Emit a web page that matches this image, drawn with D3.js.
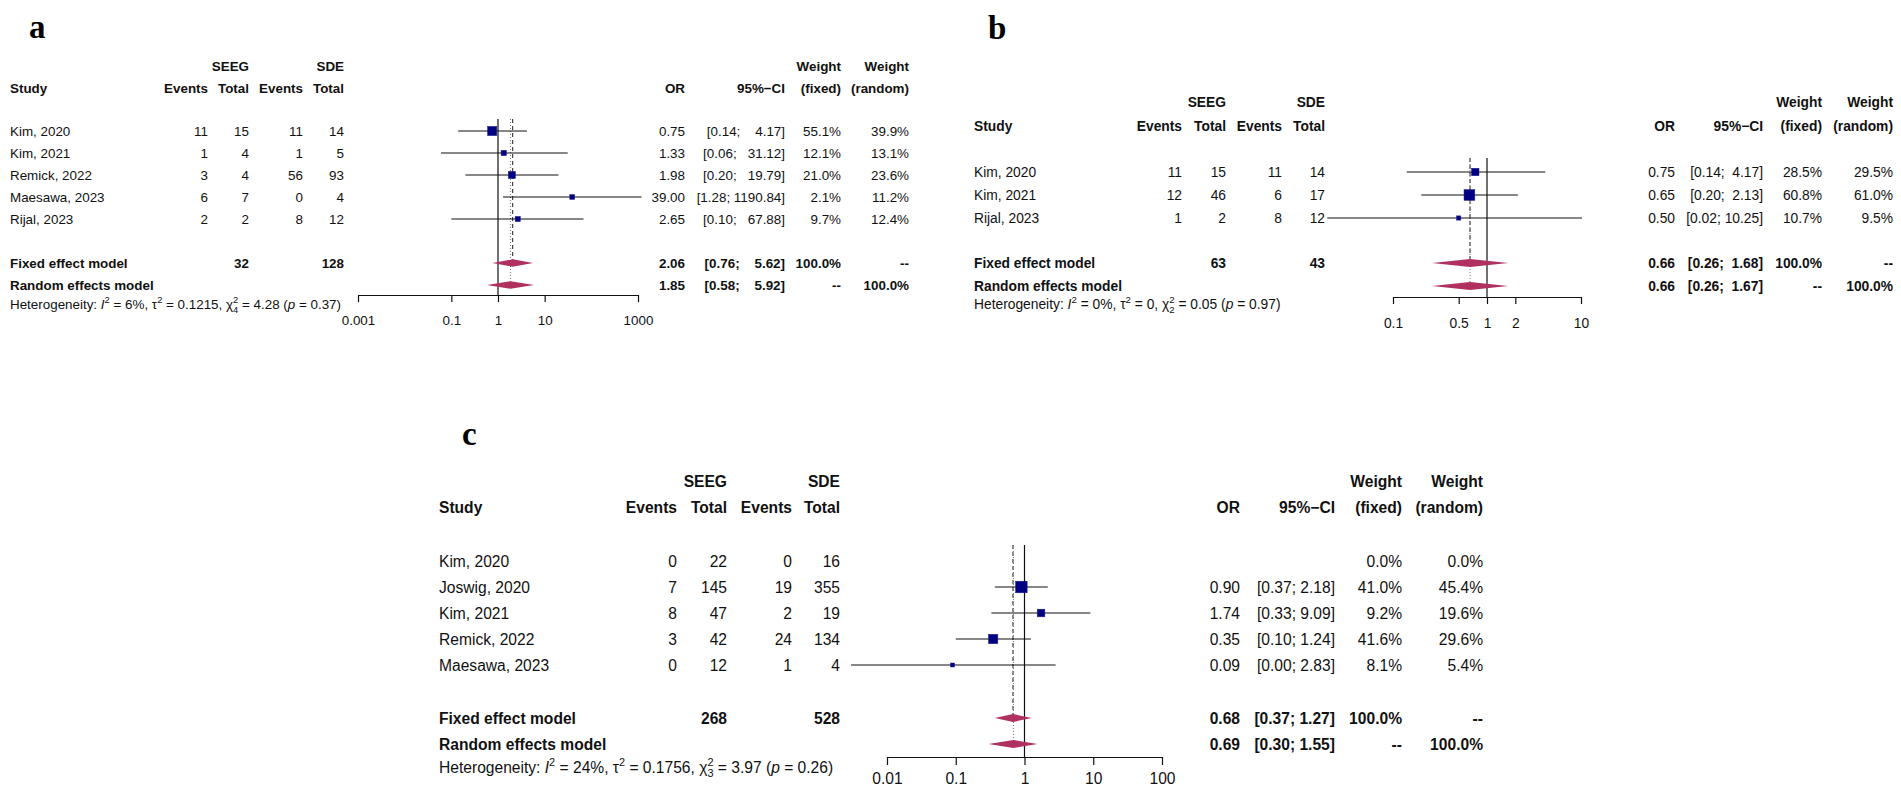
<!DOCTYPE html>
<html>
<head>
<meta charset="utf-8">
<script src="https://cdn.jsdelivr.net/npm/d3@7"></script>
<style>
  body { margin: 0; background: #fff; }
  svg text { white-space: pre; }
</style>
</head>
<body>
<svg id="chart" width="1901" height="802"></svg>
<script>
// ---- panel a data ----
var studiesA = ["Kim, 2020", "Kim, 2021", "Remick, 2022", "Maesawa, 2023", "Rijal, 2023"];
var seegEventsA = [11, 1, 3, 6, 2];
var seegTotalA = [15, 4, 4, 7, 2];
var sdeEventsA = [11, 1, 56, 0, 8];
var sdeTotalA = [14, 5, 93, 4, 12];
var orA = [0.75, 1.33, 1.98, 39.00, 2.65];
var ciLowA = [0.14, 0.06, 0.20, 1.28, 0.10];
var ciHighA = [4.17, 31.12, 19.79, 1190.84, 67.88];
var weightFixedA = [55.1, 12.1, 21.0, 2.1, 9.7];
var weightRandomA = [39.9, 13.1, 23.6, 11.2, 12.4];
var fixedModelA = [2.06, 0.76, 5.62];   // OR, lower, upper
var randomModelA = [1.85, 0.58, 5.92];
var pooledTotalsA = [32, 128];
var heteroA = ["6%", "0.1215", "4", "4.28", "0.37"]; // I2, tau2, df, Q, p
var ticksA = [0.001, 0.1, 1, 10, 1000];

// ---- panel b data ----
var studiesB = ["Kim, 2020", "Kim, 2021", "Rijal, 2023"];
var seegEventsB = [11, 12, 1];
var seegTotalB = [15, 46, 2];
var sdeEventsB = [11, 6, 8];
var sdeTotalB = [14, 17, 12];
var orB = [0.75, 0.65, 0.50];
var ciLowB = [0.14, 0.20, 0.02];
var ciHighB = [4.17, 2.13, 10.25];
var weightFixedB = [28.5, 60.8, 10.7];
var weightRandomB = [29.5, 61.0, 9.5];
var fixedModelB = [0.66, 0.26, 1.68];
var randomModelB = [0.66, 0.26, 1.67];
var pooledTotalsB = [63, 43];
var heteroB = ["0%", "0", "2", "0.05", "0.97"];
var ticksB = [0.1, 0.5, 1, 2, 10];

// ---- panel c data ----
var studiesC = ["Kim, 2020", "Joswig, 2020", "Kim, 2021", "Remick, 2022", "Maesawa, 2023"];
var seegEventsC = [0, 7, 8, 3, 0];
var seegTotalC = [22, 145, 47, 42, 12];
var sdeEventsC = [0, 19, 2, 24, 1];
var sdeTotalC = [16, 355, 19, 134, 4];
var orC = [null, 0.90, 1.74, 0.35, 0.09];
var ciLowC = [null, 0.37, 0.33, 0.10, 0.003];
var ciHighC = [null, 2.18, 9.09, 1.24, 2.83];
var weightFixedC = [0.0, 41.0, 9.2, 41.6, 8.1];
var weightRandomC = [0.0, 45.4, 19.6, 29.6, 5.4];
var fixedModelC = [0.68, 0.37, 1.27];
var randomModelC = [0.69, 0.30, 1.55];
var pooledTotalsC = [268, 528];
var heteroC = ["24%", "0.1756", "3", "3.97", "0.26"];
var ticksC = [0.01, 0.1, 1, 10, 100];

var FONT = "'Liberation Sans', Arial, Helvetica, sans-serif";
var svg = d3.select("#chart").attr("font-family", FONT);
svg.append("rect").attr("width", 1901).attr("height", 802).attr("fill", "#fff");

//draws one forest plot: table columns, CI lines, boxes, diamonds, axis
function drawPanel(d, L) {
  var g = svg.append("g");
  var fs = L.fs;
  var x = d3.scaleLog().domain([d.ticks[0], d.ticks[d.ticks.length - 1]]).range(L.xRange);

  function put(px, yc, s, anchor, bold) {
    return g.append("text")
      .attr("x", px).attr("y", yc + 0.36 * fs)
      .attr("text-anchor", anchor || "start")
      .attr("font-weight", bold ? "bold" : "normal")
      .attr("font-size", fs).attr("fill", "#111")
      .text(s);
  }

  // panel letter
  g.append("text").attr("x", L.labelX).attr("y", L.labelY)
    .attr("font-family", "'Liberation Serif', 'Times New Roman', serif")
    .attr("font-weight", "bold").attr("font-size", 33).text(L.label);

  // headers
  put(L.colSeegTot, L.yHead1, "SEEG", "end", true);
  put(L.colSdeTot, L.yHead1, "SDE", "end", true);
  put(L.colWF, L.yHead1, "Weight", "end", true);
  put(L.colWR, L.yHead1, "Weight", "end", true);
  put(L.colStudy, L.yHead2, "Study", "start", true);
  put(L.colSeegEv, L.yHead2, "Events", "end", true);
  put(L.colSeegTot, L.yHead2, "Total", "end", true);
  put(L.colSdeEv, L.yHead2, "Events", "end", true);
  put(L.colSdeTot, L.yHead2, "Total", "end", true);
  put(L.colOR, L.yHead2, "OR", "end", true);
  put(L.colCI, L.yHead2, "95%\u2212CI", "end", true);
  put(L.colWF, L.yHead2, "(fixed)", "end", true);
  put(L.colWR, L.yHead2, "(random)", "end", true);

  // width of upper CI bound, in characters, so the brackets line up like R output
  var highs = d.ciHigh.filter(function (v) { return v != null; })
    .concat([d.fixed[2], d.random[2]]);
  var hw = d3.max(highs, function (v) { return v.toFixed(2).length; });
  function ciText(lo, hi) {
    return "[" + lo.toFixed(2) + "; " + hi.toFixed(2).padStart(hw, " ") + "]";
  }

  var rowY = function (i) { return L.yRow0 + i * L.rowStep; };

  d.studies.forEach(function (s, i) {
    var yc = rowY(i);
    put(L.colStudy, yc, s);
    put(L.colSeegEv, yc, String(d.seegEvents[i]), "end");
    put(L.colSeegTot, yc, String(d.seegTotal[i]), "end");
    put(L.colSdeEv, yc, String(d.sdeEvents[i]), "end");
    put(L.colSdeTot, yc, String(d.sdeTotal[i]), "end");
    if (d.or[i] != null) {
      put(L.colOR, yc, d.or[i].toFixed(2), "end");
      put(L.colCI, yc, ciText(d.ciLow[i], d.ciHigh[i]), "end");
    }
    put(L.colWF, yc, d.wFixed[i].toFixed(1) + "%", "end");
    put(L.colWR, yc, d.wRandom[i].toFixed(1) + "%", "end");
  });

  // summary rows
  put(L.colStudy, L.yFixed, "Fixed effect model", "start", true);
  put(L.colSeegTot, L.yFixed, String(d.totals[0]), "end", true);
  put(L.colSdeTot, L.yFixed, String(d.totals[1]), "end", true);
  put(L.colOR, L.yFixed, d.fixed[0].toFixed(2), "end", true);
  put(L.colCI, L.yFixed, ciText(d.fixed[1], d.fixed[2]), "end", true);
  put(L.colWF, L.yFixed, "100.0%", "end", true);
  put(L.colWR, L.yFixed, "--", "end", true);

  put(L.colStudy, L.yRandom, "Random effects model", "start", true);
  put(L.colOR, L.yRandom, d.random[0].toFixed(2), "end", true);
  put(L.colCI, L.yRandom, ciText(d.random[1], d.random[2]), "end", true);
  put(L.colWF, L.yRandom, "--", "end", true);
  put(L.colWR, L.yRandom, "100.0%", "end", true);

  // heterogeneity line with sup/subscripts
  var h = d.hetero;
  var t = g.append("text").attr("x", L.colStudy).attr("y", L.yHetero + 0.36 * fs)
    .attr("font-size", fs).attr("fill", "#111");
  var small = 0.7 * fs, up = 0.42 * fs, down = 0.3 * fs;
  t.append("tspan").text("Heterogeneity: ");
  t.append("tspan").attr("font-style", "italic").text("I");
  t.append("tspan").attr("font-size", small).attr("dy", -up).text("2");
  t.append("tspan").attr("dy", up).text(" = " + h[0] + ", \u03c4");
  t.append("tspan").attr("font-size", small).attr("dy", -up).text("2");
  t.append("tspan").attr("dy", up).text(" = " + h[1] + ", \u03c7");
  t.append("tspan").attr("font-size", small).attr("dy", -up).text("2");
  t.append("tspan").attr("font-size", small).attr("dx", -0.556 * small)
    .attr("dy", up + down).text(h[2]);
  t.append("tspan").attr("dy", -down).text(" = " + h[3] + " (");
  t.append("tspan").attr("font-style", "italic").text("p");
  t.append("tspan").text(" = " + h[4] + ")");

  // reference lines
  g.append("line").attr("x1", x(1)).attr("x2", x(1))
    .attr("y1", L.yLineTop).attr("y2", L.yAxis)
    .attr("stroke", "#111").attr("stroke-width", 1.2);
  g.append("line").attr("x1", x(d.fixed[0])).attr("x2", x(d.fixed[0]))
    .attr("y1", L.yLineTop).attr("y2", L.yFixed)
    .attr("stroke", "#333").attr("stroke-width", 1.1).attr("stroke-dasharray", "4,3");
  g.append("line").attr("x1", x(d.random[0])).attr("x2", x(d.random[0]))
    .attr("y1", L.yLineTop).attr("y2", L.yRandom)
    .attr("stroke", "#777").attr("stroke-width", 1).attr("stroke-dasharray", "1,2");

  // CI lines and boxes
  d.studies.forEach(function (s, i) {
    if (d.or[i] == null) return;
    var yc = rowY(i);
    g.append("line").attr("x1", x(d.ciLow[i])).attr("x2", x(d.ciHigh[i]))
      .attr("y1", yc).attr("y2", yc).attr("stroke", "#111").attr("stroke-width", 1.2);
    var sz = L.boxScale * Math.sqrt(d.wRandom[i]);
    g.append("rect").attr("x", x(d.or[i]) - sz / 2).attr("y", yc - sz / 2)
      .attr("width", sz).attr("height", sz)
      .attr("fill", "#000080").attr("stroke", "#20208f").attr("stroke-width", 0.5);
  });

  // diamonds
  [[d.fixed, L.yFixed], [d.random, L.yRandom]].forEach(function (m) {
    var v = m[0], yc = m[1], hh = L.diamondH;
    var pts = [[x(v[1]), yc], [x(v[0]), yc - hh], [x(v[2]), yc], [x(v[0]), yc + hh]];
    g.append("path").attr("d", "M" + pts.join("L") + "Z").attr("fill", "#B03060");
  });

  // axis
  var pad = L.yTickLabel - L.yAxis - L.tickLen - 0.35 * fs;
  var ax = g.append("g").attr("transform", "translate(0," + L.yAxis + ")")
    .call(d3.axisBottom(x).tickValues(d.ticks).tickFormat(function (v) { return String(v); })
      .tickSize(L.tickLen).tickSizeOuter(0).tickPadding(pad));
  ax.attr("font-family", FONT).attr("font-size", fs);
  ax.selectAll("path, line").attr("stroke", "#111").attr("stroke-width", 1.2);
  ax.selectAll("text").attr("fill", "#111");
}

drawPanel({
  studies: studiesA, seegEvents: seegEventsA, seegTotal: seegTotalA, sdeEvents: sdeEventsA,
  sdeTotal: sdeTotalA, or: orA, ciLow: ciLowA, ciHigh: ciHighA, wFixed: weightFixedA,
  wRandom: weightRandomA, fixed: fixedModelA, random: randomModelA, totals: pooledTotalsA,
  hetero: heteroA, ticks: ticksA
}, {
  label: "a", labelX: 29, labelY: 38, fs: 13.4,
  colStudy: 10, colSeegEv: 208, colSeegTot: 249, colSdeEv: 303, colSdeTot: 344,
  colOR: 685, colCI: 785, colWF: 841, colWR: 909,
  yHead1: 66, yHead2: 88, yRow0: 131, rowStep: 22, yFixed: 263, yRandom: 285,
  yHetero: 304, yAxis: 295, yTickLabel: 320, yLineTop: 119,
  xRange: [358, 638], boxScale: 1.47, diamondH: 3.7, tickLen: 7
});

drawPanel({
  studies: studiesB, seegEvents: seegEventsB, seegTotal: seegTotalB, sdeEvents: sdeEventsB,
  sdeTotal: sdeTotalB, or: orB, ciLow: ciLowB, ciHigh: ciHighB, wFixed: weightFixedB,
  wRandom: weightRandomB, fixed: fixedModelB, random: randomModelB, totals: pooledTotalsB,
  hetero: heteroB, ticks: ticksB
}, {
  label: "b", labelX: 988, labelY: 39, fs: 13.8,
  colStudy: 974, colSeegEv: 1182, colSeegTot: 1226, colSdeEv: 1282, colSdeTot: 1325,
  colOR: 1675, colCI: 1763, colWF: 1822, colWR: 1893,
  yHead1: 102, yHead2: 126, yRow0: 172, rowStep: 23, yFixed: 263, yRandom: 286,
  yHetero: 304, yAxis: 297, yTickLabel: 323, yLineTop: 158,
  xRange: [1393, 1581], boxScale: 1.38, diamondH: 4, tickLen: 7
});

drawPanel({
  studies: studiesC, seegEvents: seegEventsC, seegTotal: seegTotalC, sdeEvents: sdeEventsC,
  sdeTotal: sdeTotalC, or: orC, ciLow: ciLowC, ciHigh: ciHighC, wFixed: weightFixedC,
  wRandom: weightRandomC, fixed: fixedModelC, random: randomModelC, totals: pooledTotalsC,
  hetero: heteroC, ticks: ticksC
}, {
  label: "c", labelX: 462, labelY: 445, fs: 15.6,
  colStudy: 439, colSeegEv: 677, colSeegTot: 727, colSdeEv: 792, colSdeTot: 840,
  colOR: 1240, colCI: 1335, colWF: 1402, colWR: 1483,
  yHead1: 481, yHead2: 507, yRow0: 561, rowStep: 26, yFixed: 718, yRandom: 744,
  yHetero: 767, yAxis: 757, yTickLabel: 778, yLineTop: 545,
  xRange: [887, 1162], boxScale: 1.72, diamondH: 4, tickLen: 8
});
</script>
</body>
</html>
